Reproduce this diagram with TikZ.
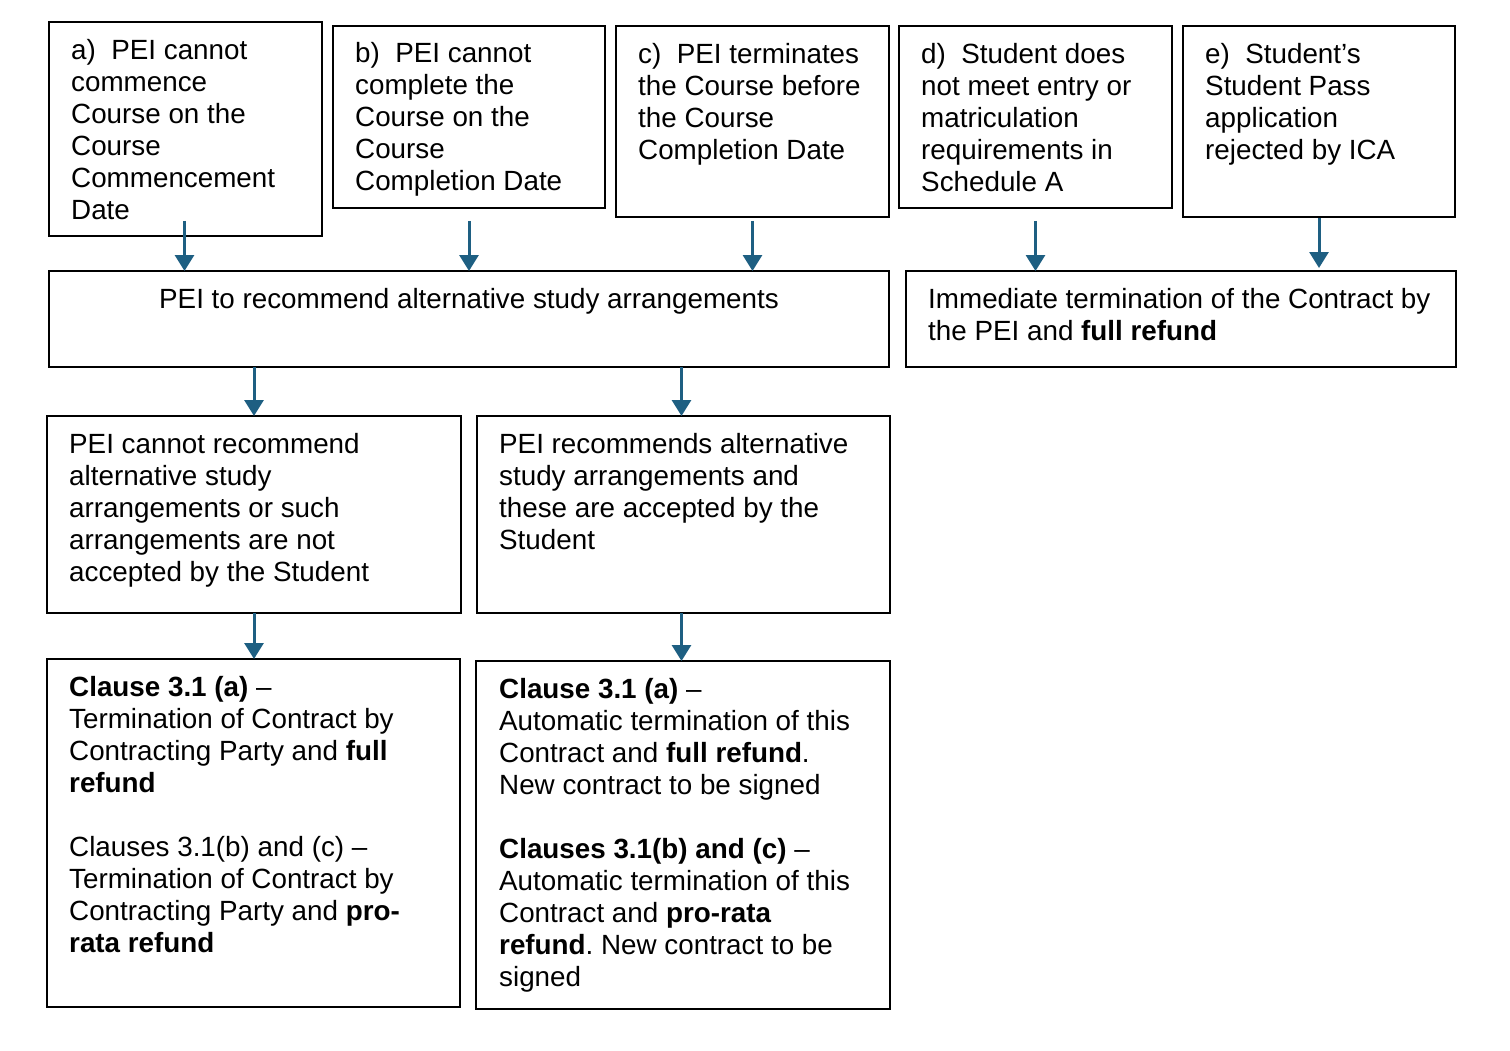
\documentclass[tikz,border=0pt]{standalone}
\usepackage{fontspec}
\setmainfont{Liberation Sans}
\usetikzlibrary{arrows.meta}
\definecolor{arrowblue}{RGB}{30,95,130}
\frenchspacing
\begin{document}
\begin{tikzpicture}[x=1pt,y=-1pt,
  box/.style={draw=black,line width=2.6pt,rectangle,inner sep=0pt,outer sep=0pt,anchor=north west},
  txt/.style={inner sep=0pt,align=left,anchor=north west,font=\fontsize{27.8}{32}\selectfont},
  arr/.style={draw=arrowblue,line width=3pt,-{Triangle[width=19pt,length=16pt]}}]
\useasboundingbox (0,0) rectangle (1510,1051);
% top row boxes
\node[box,minimum width=273pt,minimum height=214pt] (a) at (49,22) {};
\node[box,minimum width=272pt,minimum height=182pt] (b) at (333,26) {};
\node[box,minimum width=273pt,minimum height=191pt] (c) at (616,26) {};
\node[box,minimum width=273pt,minimum height=182pt] (d) at (899,26) {};
\node[box,minimum width=272pt,minimum height=191pt] (e) at (1183,26) {};
% middle row
\node[box,minimum width=840pt,minimum height=96pt] (ml) at (49,271) {};
\node[box,minimum width=550pt,minimum height=96pt] (mr) at (906,271) {};
% third row
\node[box,minimum width=414pt,minimum height=197pt] (tl) at (47,416) {};
\node[box,minimum width=413pt,minimum height=197pt] (tr) at (477,416) {};
% fourth row
\node[box,minimum width=413pt,minimum height=348pt] (fl) at (47,659) {};
\node[box,minimum width=414pt,minimum height=348pt] (fr) at (476,661) {};
% texts
\node[txt] (ta) at (71,39) {a)\ \ PEI cannot\\commence\\Course on the\\Course\\Commencement\\Date};
\node[txt] (tb) at (355,42) {b)\ \ PEI cannot\\complete the\\Course on the\\Course\\Completion Date};
\node[txt] (tc) at (638,43) {c)\ \ PEI terminates\\the Course before\\the Course\\Completion Date};
\node[txt] (td) at (921,43) {d)\ \ Student does\\not meet entry or\\matriculation\\requirements in\\Schedule A};
\node[txt] (te) at (1205,43) {e)\ \ Student’s\\Student Pass\\application\\rejected by ICA};
\node[txt,anchor=north] (tml) at (469,288) {PEI to recommend alternative study arrangements};
\node[txt] (tmr) at (928,288) {Immediate termination of the Contract by\\the PEI and \textbf{full refund}};
\node[txt] (ttl) at (69,433) {PEI cannot recommend\\alternative study\\arrangements or such\\arrangements are not\\accepted by the Student};
\node[txt] (ttr) at (499,433) {PEI recommends alternative\\study arrangements and\\these are accepted by the\\Student};
\node[txt] (tfl) at (69,676) {\textbf{Clause 3.1 (a)} –\\Termination of Contract by\\Contracting Party and \textbf{full}\\\textbf{refund}\\[32pt]Clauses 3.1(b) and (c) –\\Termination of Contract by\\Contracting Party and \textbf{pro-}\\\textbf{rata refund}};
\node[txt] (tfr) at (499,678) {\textbf{Clause 3.1 (a)} –\\Automatic termination of this\\Contract and \textbf{full refund}.\\New contract to be signed\\[32pt]\textbf{Clauses 3.1(b) and (c)} –\\Automatic termination of this\\Contract and \textbf{pro-rata}\\\textbf{refund}. New contract to be\\signed};
% arrows
\coordinate (s1) at (0,221);
\draw[arr] ([xshift=-1pt]a.south |- s1) -- ([xshift=-1pt]a.south |- ml.north);
\draw[arr] (b.south |- s1) -- (b.south |- ml.north);
\draw[arr] (c.south |- s1) -- (c.south |- ml.north);
\draw[arr] (d.south |- s1) -- (d.south |- mr.north);
\draw[arr] ([yshift=-1pt]e.south) -- ([yshift=3pt]e.south |- mr.north);
\draw[arr] (tl.north |- ml.south) -- (tl.north);
\draw[arr] ([xshift=-2pt]tr.north |- ml.south) -- ([xshift=-2pt]tr.north);
\draw[arr] (tl.south) -- (tl.south |- fl.north);
\draw[arr] ([xshift=-2pt]tr.south) -- ([xshift=-2pt]tr.south |- fr.north);
\end{tikzpicture}
\end{document}
